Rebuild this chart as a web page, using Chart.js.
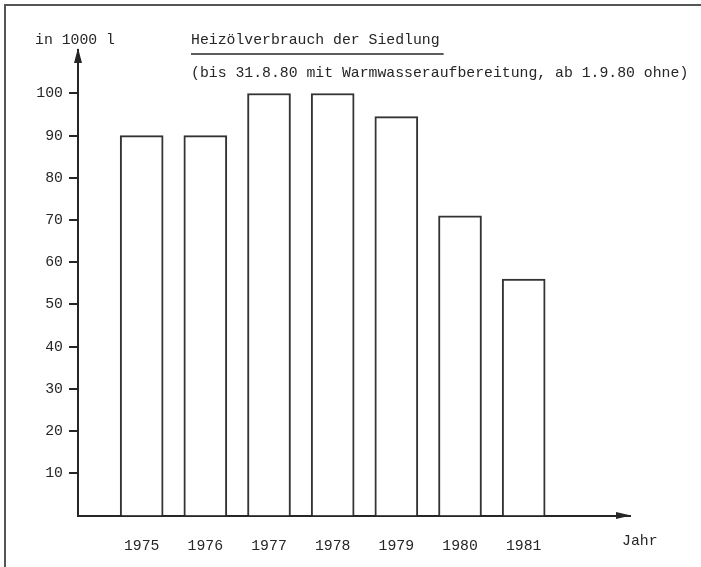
<!DOCTYPE html>
<html>
<head>
<meta charset="utf-8">
<script src="https://cdn.jsdelivr.net/npm/chart.js@4.4.1/dist/chart.umd.min.js"></script>
<style>
  html, body { margin: 0; padding: 0; background: #fff; }
  #wrap { position: relative; width: 701px; height: 567px; }
  #frame { position: absolute; left: 4px; top: 4px; right: 0; bottom: 0;
           border-left: 2px solid #555; border-top: 2px solid #555; pointer-events: none; }
</style>
</head>
<body>
<div id="wrap">
  <canvas id="chart" width="701" height="567"></canvas>
  <div id="frame"></div>
</div>
<script>
// data
const years = [1975, 1976, 1977, 1978, 1979, 1980, 1981];
const consumption = [90, 90, 100, 100, 94.5, 71, 56];   // in 1000 l
const yTicks = [10, 20, 30, 40, 50, 60, 70, 80, 90, 100];

const unitLabel = "in 1000 l";
const titleText = "Heizölverbrauch der Siedlung";
const subtitleText = "(bis 31.8.80 mit Warmwasseraufbereitung, ab 1.9.80 ohne)";
const xAxisLabel = "Jahr";

const ink = '#262626';
const font = { family: "'Liberation Mono', 'DejaVu Sans Mono', monospace", size: 14.8 };

// arrows on the axes and the typed texts
const paperPlugin = {
    id: 'paper',
    afterDraw(chart) {
        const ctx = chart.ctx;
        const {left, top, right, bottom} = chart.chartArea;
        ctx.save();
        ctx.fillStyle = ink;
        ctx.beginPath();
        ctx.moveTo(left, top - 2);
        ctx.lineTo(left - 4, top + 13);
        ctx.lineTo(left + 4, top + 13);
        ctx.closePath();
        ctx.fill();
        ctx.beginPath();
        ctx.moveTo(right + 1, bottom);
        ctx.lineTo(right - 14, bottom - 3.5);
        ctx.lineTo(right - 14, bottom + 3.5);
        ctx.closePath();
        ctx.fill();

        ctx.font = font.size + "px " + font.family;
        ctx.textBaseline = 'middle';
        ctx.textAlign = 'left';
        ctx.fillText(unitLabel, 35, 40);
        ctx.fillText(titleText, 191, 40);
        ctx.fillText(subtitleText, 191, 73);
        ctx.fillText(xAxisLabel, right - 8, bottom + 26);

        const w = ctx.measureText(titleText).width;
        ctx.strokeStyle = ink;
        ctx.lineWidth = 1.5;
        ctx.beginPath();
        ctx.moveTo(191, 54);
        ctx.lineTo(191 + w + 4, 54);
        ctx.stroke();
        ctx.restore();
    }
};

const canvas = document.getElementById("chart");
const config = {
    type: "bar",
    data: {
        datasets: [{
            label: "Heizöl",
            data: years.map((y, i) => ({x: y, y: consumption[i]})),
            backgroundColor: '#ffffff',
            borderColor: '#333333',
            borderWidth: 2,
            barThickness: 43
        }]
    },
    options: {
        responsive: false,
        animation: false,
        layout: { padding: { top: 50, right: 71, bottom: 0, left: 0 } },
        plugins: { legend: { display: false }, tooltip: { enabled: false } },
        scales: {
            x: {
                type: 'linear',
                offset: false,
                min: 1974,
                max: 1982.67,
                afterBuildTicks: scale => { scale.ticks = years.map(v => ({value: v})); },
                afterFit: scale => { scale.height = 51.5; },
                grid: { display: false, drawTicks: false, offset: false },
                border: { display: true, color: ink, width: 2 },
                ticks: { color: ink, font: font, padding: 22, maxRotation: 0, callback: v => String(v) }
            },
            y: {
                min: 0,
                max: 110.3,
                afterBuildTicks: scale => { scale.ticks = yTicks.map(v => ({value: v})); },
                afterFit: scale => { scale.width = 78; },
                grid: { display: true, drawOnChartArea: false, drawTicks: true, tickLength: 9, color: ink, lineWidth: 2 },
                border: { display: true, color: ink, width: 2 },
                ticks: { color: ink, font: font, padding: 6, callback: v => String(v) }
            }
        }
    },
    plugins: [paperPlugin]
};
let chart = new Chart(canvas, config);
</script>
</body>
</html>
